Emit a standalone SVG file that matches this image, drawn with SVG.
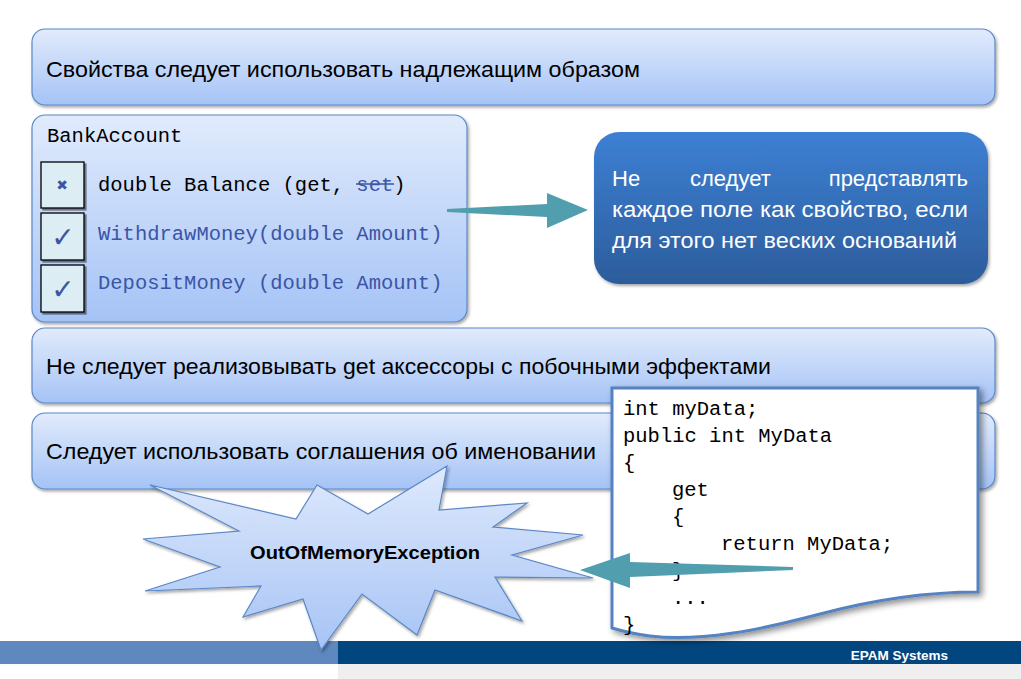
<svg xmlns="http://www.w3.org/2000/svg" width="1021" height="679" viewBox="0 0 1021 679">
  <style>
    .ru { font-family: "Liberation Sans", "Noto Sans", sans-serif; font-size: 22px; fill: #000; }
    .mono { font-family: "Liberation Mono", "DejaVu Sans Mono", monospace; font-size: 20.5px; fill: #000; }
    .blue { fill: #3b55a5; }
    .panel { fill: url(#panelGrad); stroke: #5b88c9; stroke-width: 1.2; filter: url(#shadow); }
    .chk { fill: #dcedf3; stroke: #000; stroke-width: 1.3; filter: url(#hardShadow); }
    .arrow { fill: #519eae; }
  </style>
  <defs>
    <linearGradient id="panelGrad" x1="0" y1="0" x2="0" y2="1">
      <stop offset="0" stop-color="#e1ebfc"/>
      <stop offset="1" stop-color="#a5c3f6"/>
    </linearGradient>
    <linearGradient id="darkGrad" x1="0" y1="0" x2="0" y2="1">
      <stop offset="0" stop-color="#3d80d4"/>
      <stop offset="1" stop-color="#2c5c9b"/>
    </linearGradient>
    <linearGradient id="burstGrad" x1="0" y1="0" x2="0" y2="1">
      <stop offset="0" stop-color="#dee9fc"/>
      <stop offset="1" stop-color="#a7c4f5"/>
    </linearGradient>
    <filter id="shadow" x="-5%" y="-10%" width="110%" height="130%">
      <feDropShadow dx="1.5" dy="2" stdDeviation="1.5" flood-color="#000" flood-opacity="0.35"/>
    </filter>
    <filter id="hardShadow" x="-20%" y="-20%" width="150%" height="150%">
      <feDropShadow dx="2" dy="2" stdDeviation="0.6" flood-color="#000" flood-opacity="0.45"/>
    </filter>
    <filter id="paperShadow" x="-10%" y="-10%" width="125%" height="125%">
      <feDropShadow dx="3" dy="3" stdDeviation="3" flood-color="#000" flood-opacity="0.45"/>
    </filter>
  </defs>

  <!-- footer band -->
  <g id="footer">
    <rect x="0" y="641" width="338" height="23" fill="#5f88bf"/>
    <rect x="338" y="641" width="683" height="23" fill="#02467f"/>
    <rect x="338" y="664" width="683" height="15" fill="#efefef"/>
    <text x="948" y="660" text-anchor="end" font-family="Liberation Sans, Arial, sans-serif" font-size="13.5" font-weight="bold" fill="#ffffff">EPAM Systems</text>
  </g>

  <!-- headline panels -->
  <g id="rule-usage">
    <rect class="panel" x="32" y="29" width="963" height="76" rx="13"/>
    <text class="ru" x="46" y="77" textLength="594" lengthAdjust="spacingAndGlyphs">Свойства следует использовать надлежащим образом</text>
  </g>

  <g id="bank-account">
    <rect class="panel" x="32" y="115" width="435" height="207" rx="13"/>
    <text class="mono" x="47" y="142">BankAccount</text>
    <rect class="chk" x="41" y="162" width="43" height="46"/>
    <rect class="chk" x="41" y="213" width="43" height="47"/>
    <rect class="chk" x="41" y="265" width="43" height="47"/>
    <text x="62" y="190" text-anchor="middle" font-family="DejaVu Sans, sans-serif" font-size="14" font-weight="bold" fill="#3b55a5">✖</text>
    <text x="63" y="247" text-anchor="middle" font-family="DejaVu Sans, sans-serif" font-size="28" fill="#3b55a5">✓</text>
    <text x="63" y="299" text-anchor="middle" font-family="DejaVu Sans, sans-serif" font-size="28" fill="#3b55a5">✓</text>
    <text class="mono" x="98" y="191">double Balance (get, <tspan class="blue">set</tspan>)</text>
    <line x1="356" y1="184" x2="394" y2="184" stroke="#3b55a5" stroke-width="1.5"/>
    <text class="mono blue" x="98" y="240">WithdrawMoney(double Amount)</text>
    <text class="mono blue" x="98" y="289">DepositMoney (double Amount)</text>
  </g>

  <g id="field-advice">
    <rect x="594" y="132" width="394" height="152" rx="25" fill="url(#darkGrad)" filter="url(#shadow)"/>
    <g class="ru">
      <text x="612" y="186" style="fill:#fff">Не</text>
      <text x="690" y="186" style="fill:#fff">следует</text>
      <text x="968" y="186" text-anchor="end" style="fill:#fff">представлять</text>
      <text x="612" y="217" textLength="356" lengthAdjust="spacingAndGlyphs" style="fill:#fff">каждое поле как свойство, если</text>
      <text x="612" y="248" textLength="345" lengthAdjust="spacingAndGlyphs" style="fill:#fff">для этого нет веских оснований</text>
    </g>
  </g>

  <g id="getter-rule">
    <rect class="panel" x="32" y="328" width="963" height="75" rx="13"/>
    <text class="ru" x="46" y="374" textLength="725" lengthAdjust="spacingAndGlyphs">Не следует реализовывать get аксессоры с побочными эффектами</text>
  </g>

  <g id="naming-rule">
    <rect class="panel" x="32" y="413" width="963" height="76" rx="13"/>
    <text class="ru" x="46" y="459" textLength="550" lengthAdjust="spacingAndGlyphs">Следует использовать соглашения об именовании</text>
  </g>

  <!-- connectors -->
  <g id="connectors">
    <path class="arrow" d="M447,209 L547,204 L547,193 L588,210 L547,228 L547,217 L447,212 Z"/>
  </g>

  <g id="exception-burst">
    <polygon points="150,485 296,519 317,485 368,514 447,466 439,510 527,503 493,527 583,535 512,555 593,578 495,577 522,621 435,590 417,635 362,594 321,650 303,599 243,617 261,586 145,591 220,567 143,539 239,531" fill="url(#burstGrad)" stroke="#5b87c6" stroke-width="1.2" filter="url(#shadow)"/>
    <text x="365" y="559" text-anchor="middle" font-family="Liberation Sans, Arial, sans-serif" font-size="18.5" font-weight="bold" textLength="230" lengthAdjust="spacingAndGlyphs">OutOfMemoryException</text>
  </g>

  <g id="code-sample">
    <path d="M612,388 L978,388 L978,592 C930,592 880,598 820,614 C760,630 700,642 650,636 C635,634 622,631 612,628 Z" fill="#ffffff" stroke="#5582c0" stroke-width="3" filter="url(#paperShadow)"/>
    <text class="mono" x="623" y="415">int myData;</text>
    <text class="mono" x="623" y="442">public int MyData</text>
    <text class="mono" x="623" y="469">{</text>
    <text class="mono" x="672" y="496">get</text>
    <text class="mono" x="672" y="523">{</text>
    <text class="mono" x="721" y="550">return MyData;</text>
    <text class="mono" x="672" y="577">}</text>
    <text class="mono" x="672" y="604">...</text>
    <text class="mono" x="623" y="631">}</text>
  </g>

  <g id="connectors-2">
    <path class="arrow" d="M793,567 L630,562 L630,553 L580,570 L630,588 L630,577 L793,570 Z"/>
  </g>
</svg>
